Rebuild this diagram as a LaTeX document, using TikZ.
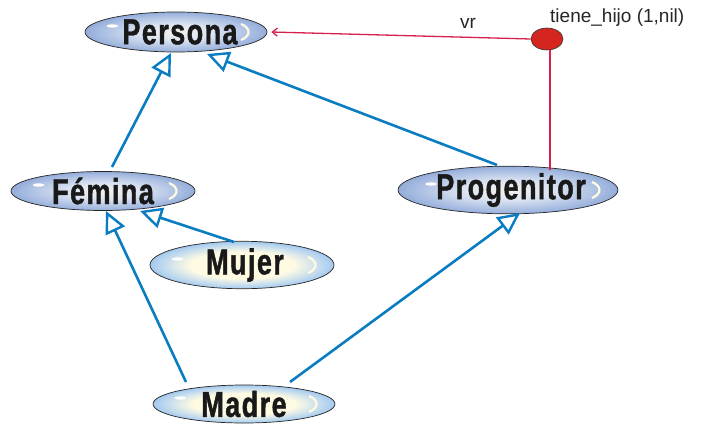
\documentclass[tikz,border=0pt]{standalone}
\usepackage{fontspec}
\usetikzlibrary{shapes.geometric,arrows.meta,calc}
\newfontfamily\classfont{Liberation Sans}[FakeStretch=0.75,LetterSpace=4,FakeBold=1.2]
\newfontfamily\notefont{Liberation Sans}
\definecolor{genblue}{HTML}{0A7DC2}
\definecolor{relred}{HTML}{D8204C}
\definecolor{dotred}{HTML}{D4261E}
\definecolor{steel}{HTML}{6F8CC6}
\definecolor{steelmid}{HTML}{A3B9E0}
\definecolor{pale}{HTML}{DCE4F2}
\definecolor{cream}{HTML}{F4F2EA}
\definecolor{sky}{HTML}{6FA6DC}
\definecolor{skymid}{HTML}{B4D3F0}
\definecolor{lightcream}{HTML}{FFFBE3}
\pgfdeclareradialshading{glassdark}{\pgfpoint{0bp}{0bp}}{%
  color(0bp)=(cream); color(10bp)=(pale); color(22bp)=(steelmid);
  color(32bp)=(steel); color(50bp)=(steel)}
\pgfdeclareradialshading{glasslight}{\pgfpoint{0bp}{0bp}}{%
  color(0bp)=(lightcream); color(14bp)=(lightcream); color(23bp)=(skymid);
  color(31bp)=(sky); color(50bp)=(sky)}
\begin{document}
\begin{tikzpicture}[x=1pt,y=-1pt,
  cls/.style={ellipse, draw=black!85, line width=0.7pt, inner sep=0pt,
    shading=glassdark, text=black!90,
    font=\classfont\bfseries\fontsize{36}{36}\selectfont,
    path picture={
      \fill[white]
        ($(path picture bounding box.west)!0.15!(path picture bounding box.east)+(0,-6)$)
        ellipse (6pt and 1.6pt);
      \draw[lightcream, line width=2.2pt]
        ($(path picture bounding box.east)+(-26,-8)$)
        .. controls ($(path picture bounding box.east)+(-16,-4)$)
        and ($(path picture bounding box.east)+(-16,4)$) ..
        ($(path picture bounding box.east)+(-26,8)$);}},
  clslight/.style={cls, shading=glasslight},
  gen/.style={draw=genblue, line width=2.6pt,
    -{Triangle[open, length=22pt, width=21pt, line width=2.4pt]}},
  rel/.style={draw=relred, line width=1.3pt},
  note/.style={font=\notefont\fontsize{19}{19}\selectfont, text=black!85, inner sep=0pt}
]
\path[use as bounding box] (0,0) rectangle (706,423);

% classes
\node[cls, minimum width=182pt, minimum height=40pt] (per) at (176,32) {\hspace{8pt}Persona};
\node[cls, minimum width=184pt, minimum height=39pt] (fem) at (103,191) {Fémina};
\node[clslight, minimum width=184pt, minimum height=38pt] (muj) at (242,265) {\hspace{6pt}Mujer};
\node[cls, minimum width=206pt, minimum height=43pt] (prog) at (508,190) {\hspace{6pt}Progenitor};
\node[clslight, minimum width=182pt, minimum height=38pt] (mad) at (244,404) {Madre};

% relation marker and its labels
\node[ellipse, draw=black!80, line width=0.6pt, fill=dotred,
  minimum width=32pt, minimum height=22pt, inner sep=0pt] (dot) at (547,39) {};
\node[note] (vrlbl) at (468,23) {vr};
\node[note, anchor=west] (rellbl) at (550,18) {tiene\_hijo (1,nil)};

% generalisation arrows
\draw[gen] ($(fem)+(9,-24)$) -- ($(per)+(-5,21)$);
\draw[gen] ($(prog)+(-11,-25)$) -- ($(per)+(31,22)$);
\draw[gen] ($(muj)+(-8,-23)$) -- ($(fem)+(37,20)$);
\draw[gen] ($(mad)+(-58,-22)$) -- ($(fem)+(3,20)$);
\draw[gen] ($(mad)+(46,-22)$) -- ($(prog)+(12,23)$);

% relation connectors
\draw[rel, -{Straight Barb[length=5pt,width=8pt]}] (dot.west) -- ($(per.east)+(4,0)$);
\draw[rel] ($(dot.south)+(3,0)$) -- ($(prog)+(42,-20)$);
\end{tikzpicture}
\end{document}
